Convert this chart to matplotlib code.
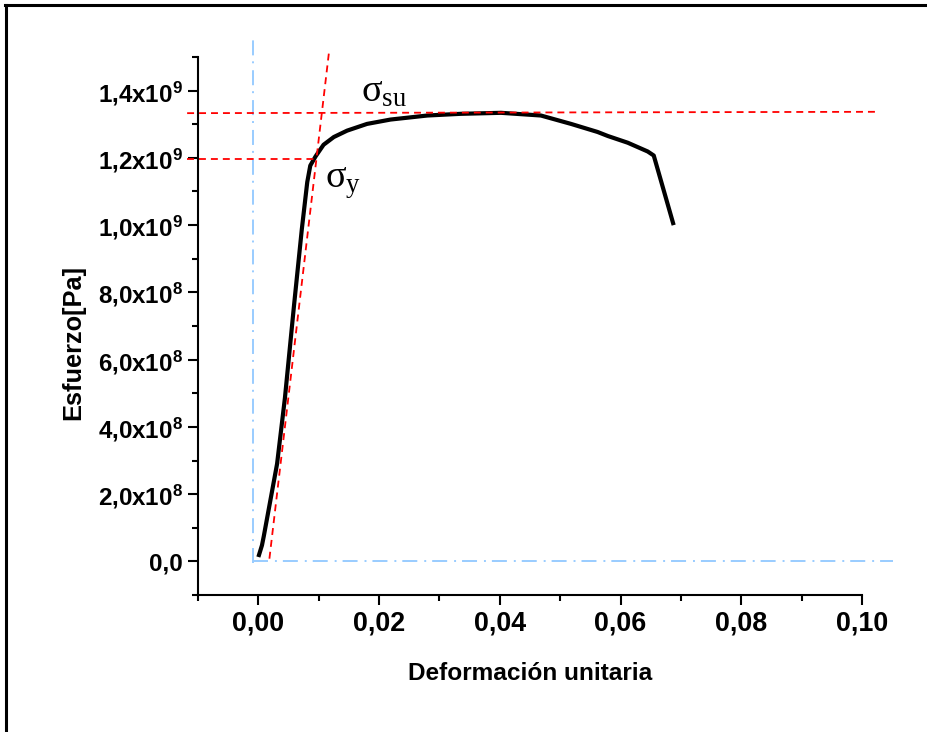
import matplotlib
matplotlib.use("Agg")
import matplotlib.pyplot as plt
from matplotlib.lines import Line2D
from matplotlib.ticker import MultipleLocator, FuncFormatter

plt.rcParams["font.family"] = ["Liberation Sans", "DejaVu Sans"]
plt.rcParams["mathtext.fontset"] = "custom"
plt.rcParams["mathtext.bf"] = "Liberation Sans:bold"
plt.rcParams["mathtext.rm"] = "Liberation Serif"
plt.rcParams["mathtext.it"] = "Liberation Serif:italic"
plt.rcParams["lines.scale_dashes"] = False

# Stress-strain test curve
strain = [0.0000, 0.0006, 0.0009, 0.0031, 0.0044, 0.0059, 0.0072, 0.0081,
          0.0086, 0.0095, 0.0108, 0.0125, 0.0147, 0.0180, 0.0219, 0.0280,
          0.0335, 0.0402, 0.0468, 0.0518, 0.0562, 0.0579, 0.0612, 0.0645,
          0.0655, 0.0688]
stress = [0.013e9, 0.048e9, 0.075e9, 0.29e9, 0.486e9, 0.76e9, 0.988e9, 1.128e9,
          1.177e9, 1.205e9, 1.239e9, 1.262e9, 1.281e9, 1.301e9, 1.314e9, 1.326e9,
          1.331e9, 1.334e9, 1.326e9, 1.301e9, 1.277e9, 1.265e9, 1.245e9, 1.219e9,
          1.207e9, 1.000e9]

# Offset elastic line (0.2 % style construction)
offset_x = [0.00183, 0.01167]
offset_y = [0.008e9, 1.510e9]

# Yield and ultimate stress guide lines
yield_x = [-0.0118, 0.0095]
yield_y = [1.197e9, 1.197e9]
ultimate_x = [-0.0118, 0.1022]
ultimate_y = [1.333e9, 1.337e9]

# Origin reference lines
origin_vx = [-0.0009, -0.0009]
origin_vy = [-0.006e9, 1.558e9]
origin_hx = [-0.0009, 0.1052]
origin_hy = [0.0, 0.0]

x_lim = (-0.01, 0.10)
y_lim = (-1e8, 1.5e9)

W, H = 927, 732
fig = plt.figure(figsize=(W / 100, H / 100), dpi=100)
ax = fig.add_axes([198 / W, 1 - 595 / H, 664 / W, 538 / H])

blue = "#99ccff"
blue_dash = (10.8, 5, 1.4, 4.3)
ax.plot(origin_vx, origin_vy, color=blue, lw=1.4, dashes=blue_dash,
        clip_on=False, zorder=1)
ax.plot(origin_hx, origin_hy, color=blue, lw=1.4, dashes=blue_dash,
        clip_on=False, zorder=1)

ax.plot(strain, stress, color="black", lw=3, solid_joinstyle="round",
        solid_capstyle="butt", zorder=2)

red_dash = (5, 3.6)
for xs, ys in ((offset_x, offset_y), (yield_x, yield_y), (ultimate_x, ultimate_y)):
    ax.plot(xs, ys, color="red", lw=1.3, dashes=red_dash, clip_on=False, zorder=3)

ax.text(0.01693, 1.367e9, r"$\mathrm{\sigma}_{\mathrm{su}}$", fontsize=27.5,
        ha="left", va="baseline")
ax.text(0.01112, 1.113e9, r"$\mathrm{\sigma}_{\mathrm{y}}$", fontsize=27.5,
        ha="left", va="baseline")

ax.set_xlim(*x_lim)
ax.set_ylim(*y_lim)

for side in ("top", "right"):
    ax.spines[side].set_visible(False)
for side in ("left", "bottom"):
    ax.spines[side].set_linewidth(1.5)

ax.xaxis.set_major_locator(MultipleLocator(0.02))
ax.xaxis.set_minor_locator(MultipleLocator(0.01))
ax.yaxis.set_major_locator(MultipleLocator(2e8))
ax.yaxis.set_minor_locator(MultipleLocator(1e8))


def fmt_x(v, pos):
    return f"{v:.2f}".replace(".", ",").replace("-0,00", "0,00")


def fmt_y(v, pos):
    if abs(v) < 1:
        return "0,0"
    exp = 9 if abs(v) >= 1e9 else 8
    mant = f"{v / 10**exp:.1f}".replace(".", "{,}")
    return r"$\mathbf{" + mant + r"x10^{" + str(exp) + r"}}$"


ax.xaxis.set_major_formatter(FuncFormatter(fmt_x))
ax.yaxis.set_major_formatter(FuncFormatter(fmt_y))

ax.tick_params(axis="both", which="both", direction="out", width=1.5)
ax.tick_params(axis="both", which="major", length=7.2)
ax.tick_params(axis="both", which="minor", length=4)
ax.tick_params(axis="x", which="major", labelsize=19.4, pad=4)
ax.tick_params(axis="y", which="major", labelsize=17.4, pad=4)
for lab in ax.get_xticklabels() + ax.get_yticklabels():
    lab.set_fontweight("bold")

fig.text(530 / W, 1 - 680 / H, "Deformación unitaria", fontsize=17.6,
         fontweight="bold", ha="center", va="baseline")
fig.text(73 / W, 1 - 342 / H, "Esfuerzo[Pa]", fontsize=18.3,
         fontweight="bold", ha="center", va="center", rotation=90)

# Frame around the figure (left and top edges)
fig.add_artist(Line2D([6 / W, 6 / W], [0, 1 - 5 / H], color="black", lw=2.2,
                      transform=fig.transFigure))
fig.add_artist(Line2D([5 / W, 1], [1 - 5 / H, 1 - 5 / H], color="black", lw=2.2,
                      transform=fig.transFigure))

fig.savefig("out.png", dpi=100)
